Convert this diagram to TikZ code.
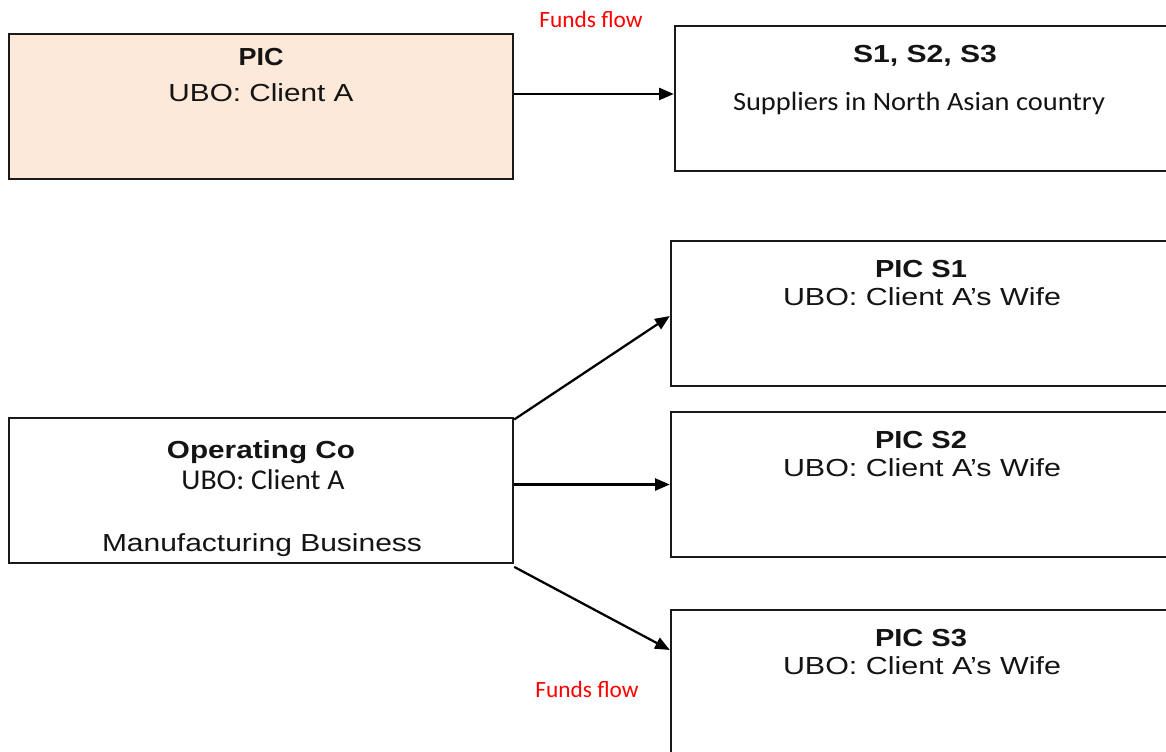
\documentclass[tikz,border=0pt]{standalone}
\usepackage{fontspec}
\usepackage{graphicx}
\usetikzlibrary{arrows.meta}
\newfontfamily\arialf{Liberation Sans}
\newfontfamily\calf{Carlito}
\definecolor{peach}{HTML}{FDE9D9}
\definecolor{edge}{HTML}{1A1A1A}
% set a line of text to a given width, keeping its natural height
\newcommand{\wfit}[2]{\resizebox{#1}{\height}{#2}}
\newcommand{\hdfont}{\arialf\bfseries\fontsize{18.5}{20}\selectfont}
\newcommand{\rgfont}{\arialf\fontsize{18.5}{20}\selectfont}
\begin{document}
\begin{tikzpicture}[x=0.75pt,y=-0.75pt,
  box/.style={rectangle, draw=edge, line width=1.8pt, inner sep=0pt,
              minimum height=108.75pt},
  txt/.style={anchor=base, inner sep=0pt, text=black!92},
  note/.style={anchor=base, inner sep=0pt, text=red,
               font=\calf\fontsize{17.5}{20}\selectfont},
  flow/.style={draw=black, line width=1.7pt,
               -{Triangle[length=11pt,width=9pt]}}]
\useasboundingbox (0,0) rectangle (1166,751);
\clip (0,0) rectangle (1166,751);

% boxes
\node[box, fill=peach, minimum width=378pt] (pic) at (261,106.5) {};
\node[box, fill=white, minimum width=378.75pt] (sup) at (927.5,98.5) {};
\node[box, fill=white, minimum width=378pt] (op) at (261,490.5) {};
\node[box, fill=white, minimum width=381.75pt] (s1) at (925.5,313.5) {};
\node[box, fill=white, minimum width=381.75pt] (s2) at (925.5,484.5) {};
\node[box, fill=white, minimum width=381.75pt] (s3) at (925.5,682.5) {};

% box texts
\node[txt] (picT) at (261,65) {\wfit{33.75pt}{\hdfont PIC}};
\node[txt] (picU) at (261,101) {\wfit{138.75pt}{\rgfont UBO: Client A}};
\node[txt] (supT) at (925,62) {\wfit{108pt}{\hdfont S1, S2, S3}};
\node[txt] (supU) at (919,110) {\wfit{279pt}{\calf\fontsize{19.8}{22}\selectfont Suppliers in North Asian country}};

\node[txt] (opT) at (261,458) {\wfit{141pt}{\hdfont Operating Co}};
\node[txt] (opU) at (263,489) {\wfit{122.25pt}{\calf\fontsize{21.5}{24}\selectfont UBO: Client A}};
\node[txt] (opB) at (262,551) {\wfit{240pt}{\rgfont Manufacturing Business}};

\node[txt] (s1T) at (921,277) {\wfit{69pt}{\hdfont PIC S1}};
\node[txt] (s1U) at (922,305) {\wfit{208.5pt}{\rgfont UBO: Client A’s Wife}};
\node[txt] (s2T) at (921,448) {\wfit{69pt}{\hdfont PIC S2}};
\node[txt] (s2U) at (922,476) {\wfit{208.5pt}{\rgfont UBO: Client A’s Wife}};
\node[txt] (s3T) at (921,646) {\wfit{69pt}{\hdfont PIC S3}};
\node[txt] (s3U) at (922,674) {\wfit{208.5pt}{\rgfont UBO: Client A’s Wife}};

% flow labels
\node[note] (ff1) at (591,27) {Funds flow};
\node[note] (ff2) at (587,697) {Funds flow};

% connectors
\draw[flow] ([yshift=9.4pt]pic.east) coordinate (p1) -- (p1 -| sup.west);
\draw[flow] ([yshift=-2pt]op.north east) -- ([yshift=-1.9pt]s1.west);
\draw[flow] (op.east |- s2.west) -- (s2.west);
\draw[flow] ([yshift=-2pt]op.south east) -- ([yshift=24.4pt]s3.west);
\end{tikzpicture}
\end{document}
